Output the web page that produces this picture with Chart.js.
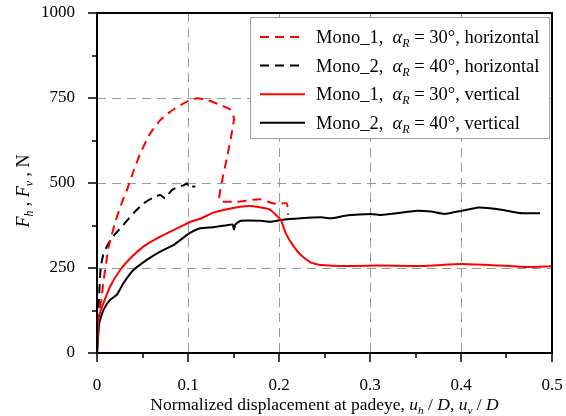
<!DOCTYPE html>
<html>
<head>
<meta charset="utf-8">
<script src="https://cdn.jsdelivr.net/npm/chart.js@4/dist/chart.umd.min.js"></script>
<style>
html,body{margin:0;padding:0;background:#fff;}
canvas{display:block;}
</style>
</head>
<body>
<canvas id="c" width="566" height="416"></canvas>
<script>
// ---- Data ----
const mono1H_x = [0, 0.0015, 0.003, 0.005, 0.007, 0.009, 0.0125, 0.016, 0.02, 0.027, 0.033, 0.038, 0.0475, 0.0585, 0.0695, 0.0806, 0.0916, 0.1026, 0.110, 0.121, 0.136, 0.147, 0.1505, 0.1487, 0.143, 0.1376, 0.134, 0.139, 0.154, 0.169, 0.180, 0.191, 0.198, 0.2086, 0.210];
const mono1H_y = [0, 100, 130, 160, 210, 245, 310, 345, 385, 440, 480, 519, 587, 646, 685, 710, 729, 744, 749, 744, 729, 715, 690, 656, 577, 509, 450, 445, 445, 450, 452, 442, 438, 440, 406];

const mono2H_x = [0, 0.002, 0.004, 0.007, 0.012, 0.02, 0.027, 0.04, 0.0511, 0.064, 0.0695, 0.075, 0.082, 0.0897, 0.095, 0.099, 0.100, 0.104, 0.108];
const mono2H_y = [0, 150, 250, 290, 320, 350, 371, 411, 440, 460, 465, 455, 479, 489, 493, 499, 488, 490, 490];

const mono1V_x = [0, 0.0015, 0.004, 0.007, 0.0143, 0.0254, 0.0364, 0.051, 0.0659, 0.0806, 0.0953, 0.1026, 0.1137, 0.128, 0.143, 0.1578, 0.169, 0.180, 0.189, 0.1946, 0.202, 0.2075, 0.215, 0.224, 0.235, 0.246, 0.2756, 0.3124, 0.357, 0.4007, 0.430, 0.4705, 0.500];
const mono1V_y = [0, 97, 125, 146, 195, 244, 278, 313, 337, 357, 376, 386, 395, 413, 423, 430, 432, 428, 423, 411, 391, 352, 318, 288, 266, 259, 256, 257, 256, 262, 259, 253, 255];

const mono2V_x = [0, 0.0025, 0.007, 0.0143, 0.0217, 0.029, 0.040, 0.0548, 0.0695, 0.0843, 0.0953, 0.1026, 0.1137, 0.128, 0.143, 0.149, 0.1505, 0.152, 0.158, 0.180, 0.191, 0.202, 0.224, 0.246, 0.257, 0.2756, 0.301, 0.3124, 0.327, 0.349, 0.367, 0.382, 0.4007, 0.419, 0.441, 0.467, 0.487];
const mono2V_y = [0, 88, 126, 156, 171, 205, 244, 274, 298, 318, 340, 354, 367, 370, 376, 378, 363, 378, 389, 389, 386, 391, 396, 399, 396, 405, 409, 406, 410, 418, 416, 409, 418, 428, 423, 411, 411];

const seriesNames = ['Mono_1', 'Mono_2', 'Mono_1', 'Mono_2'];
const seriesAngles = ['30°', '40°', '30°', '40°'];
const seriesDirs = ['horizontal', 'horizontal', 'vertical', 'vertical'];

const xTicks = [0, 0.1, 0.2, 0.3, 0.4, 0.5];
const yTicks = [0, 250, 500, 750, 1000];

// ---- Helpers ----
function pts(xs, ys){ return xs.map((x,i)=>({x:x, y:ys[i]})); }
const FONT = '"Liberation Serif", "Times New Roman", serif';

function richWidth(ctx, parts, size){
  let w = 0;
  for (const p of parts){
    const s = p.sub ? size*0.65 : size;
    ctx.font = (p.i ? 'italic ' : '') + s + 'px ' + FONT;
    w += ctx.measureText(p.t).width;
  }
  return w;
}
function drawRich(ctx, parts, x, y, size, align){
  let w = richWidth(ctx, parts, size);
  let cx = align === 'center' ? x - w/2 : x;
  ctx.textBaseline = 'alphabetic';
  ctx.textAlign = 'left';
  for (const p of parts){
    const s = p.sub ? size*0.65 : size;
    ctx.font = (p.i ? 'italic ' : '') + s + 'px ' + FONT;
    ctx.fillText(p.t, cx, p.sub ? y + size*0.22 : y);
    cx += ctx.measureText(p.t).width;
  }
}

const colors = ['#ff0000', '#000000', '#ff0000', '#000000'];
const dashes = [[9,6],[9,6],[],[]];

const decorPlugin = {
  id: 'decor',
  afterDraw(chart){
    const ctx = chart.ctx;
    const a = chart.chartArea;
    const xs = chart.scales.x, ys = chart.scales.y;
    ctx.save();
    // ticks
    ctx.strokeStyle = '#000';
    ctx.lineWidth = 1.5;
    ctx.beginPath();
    for (let v = 0; v <= 0.5001; v += 0.05){
      const px = Math.round(xs.getPixelForValue(v));
      const major = Math.abs(v*10 - Math.round(v*10)) < 1e-6;
      ctx.moveTo(px, a.bottom);
      ctx.lineTo(px, a.bottom + (major ? 9 : 5));
    }
    for (let v = 0; v <= 1000; v += 125){
      const py = Math.round(ys.getPixelForValue(v));
      const major = v % 250 === 0;
      ctx.moveTo(a.left, py);
      ctx.lineTo(a.left - (major ? 9 : 5), py);
    }
    ctx.stroke();
    // frame
    ctx.lineWidth = 2;
    ctx.strokeRect(a.left, a.top, a.right - a.left, a.bottom - a.top);

    // legend box
    const lx = 250, ly = 17, lw = 299, lh = 121;
    ctx.fillStyle = '#fff';
    ctx.fillRect(lx, ly, lw, lh);
    ctx.strokeStyle = '#a0a0a0';
    ctx.lineWidth = 1;
    ctx.strokeRect(lx + 0.5, ly + 0.5, lw, lh);
    ctx.fillStyle = '#000';
    for (let i = 0; i < 4; i++){
      const cy = 37 + i*28.6;
      ctx.save();
      ctx.strokeStyle = colors[i];
      ctx.lineWidth = 2;
      ctx.setLineDash(dashes[i]);
      ctx.beginPath();
      ctx.moveTo(260, cy);
      ctx.lineTo(305, cy);
      ctx.stroke();
      ctx.restore();
      drawRich(ctx, [
        {t: seriesNames[i] + ',  '},
        {t: 'α', i: true},
        {t: 'R', i: true, sub: true},
        {t: ' = ' + seriesAngles[i] + ', ' + seriesDirs[i]}
      ], 316, cy + 6, 18.5, 'left');
    }

    // x title
    ctx.fillStyle = '#000';
    drawRich(ctx, [
      {t: 'Normalized displacement at padeye, '},
      {t: 'u', i: true}, {t: 'h', i: true, sub: true},
      {t: ' / '}, {t: 'D', i: true}, {t: ', '},
      {t: 'u', i: true}, {t: 'v', i: true, sub: true},
      {t: ' / '}, {t: 'D', i: true}
    ], (a.left + a.right)/2, 410, 17.5, 'center');

    // y title
    ctx.save();
    ctx.translate(29, 191);
    ctx.rotate(-Math.PI/2);
    drawRich(ctx, [
      {t: 'F', i: true}, {t: 'h', i: true, sub: true}, {t: ' , '},
      {t: 'F', i: true}, {t: 'v', i: true, sub: true}, {t: ' , N'}
    ], 0, 0, 18, 'center');
    ctx.restore();

    ctx.restore();
  }
};

const interiorX = v => v > 1e-6 && v < 0.5 - 1e-6;
const interiorY = v => v > 0 && v < 1000;

new Chart(document.getElementById('c'), {
  type: 'line',
  data: {
    datasets: [
      {data: pts(mono1H_x, mono1H_y), borderColor: colors[0], borderDash: dashes[0]},
      {data: pts(mono2H_x, mono2H_y), borderColor: colors[1], borderDash: dashes[1]},
      {data: pts(mono1V_x, mono1V_y), borderColor: colors[2]},
      {data: pts(mono2V_x, mono2V_y), borderColor: colors[3]}
    ]
  },
  options: {
    responsive: false,
    animation: false,
    devicePixelRatio: 1,
    layout: {padding: {top: 13, right: 14, left: 0, bottom: 0}},
    plugins: {legend: {display: false}, tooltip: {enabled: false}},
    elements: {point: {radius: 0}, line: {borderWidth: 2, tension: 0.15, fill: false}},
    scales: {
      x: {
        type: 'linear', min: 0, max: 0.5,
        afterBuildTicks: s => { s.ticks = xTicks.map(v => ({value: v})); },
        afterFit: s => { s.height = 63; s.paddingLeft = 0; s.paddingRight = 0; },
        ticks: {
          color: '#000', padding: 22, maxRotation: 0,
          font: {family: FONT, size: 17},
          callback: v => String(+(+v).toFixed(1))
        },
        grid: {
          drawTicks: false,
          lineWidth: 1,
          color: c => (c.tick && interiorX(c.tick.value)) ? '#999999' : 'rgba(0,0,0,0)'
        },
        border: {display: false, dash: [9, 6]}
      },
      y: {
        type: 'linear', min: 0, max: 1000,
        afterBuildTicks: s => { s.ticks = yTicks.map(v => ({value: v})); },
        afterFit: s => { s.width = 97; s.paddingTop = 0; s.paddingBottom = 0; },
        ticks: {
          color: '#000', padding: 22,
          font: {family: FONT, size: 17},
          callback: v => String(v)
        },
        grid: {
          drawTicks: false,
          lineWidth: 1,
          color: c => (c.tick && interiorY(c.tick.value)) ? '#999999' : 'rgba(0,0,0,0)'
        },
        border: {display: false, dash: [9, 6]}
      }
    }
  },
  plugins: [decorPlugin]
});
</script>
</body>
</html>
